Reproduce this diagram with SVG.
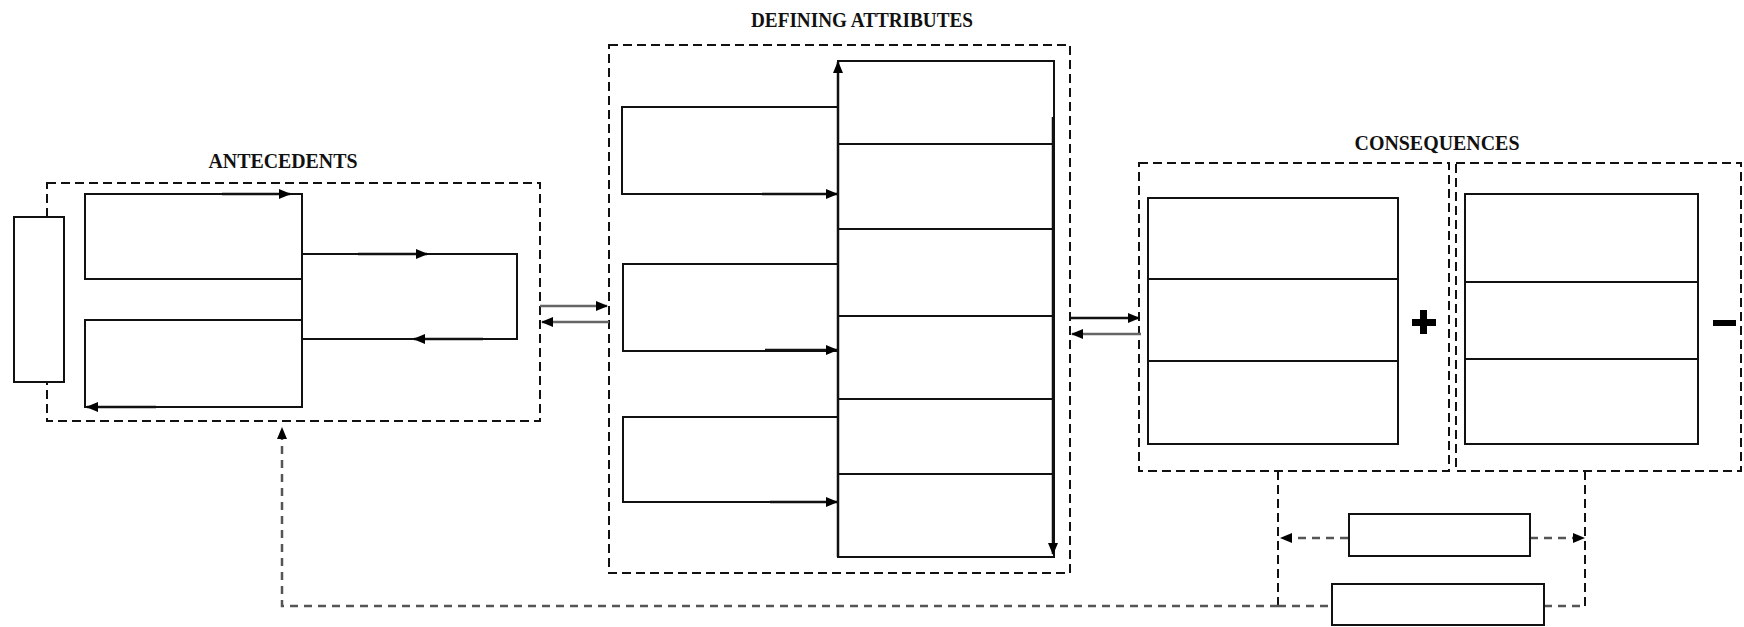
<svg xmlns="http://www.w3.org/2000/svg" width="1744" height="627" viewBox="0 0 1744 627">
<style>
.box{fill:#fff;stroke:#111;stroke-width:2}
.ln{fill:none;stroke:#111;stroke-width:2}
.dash{fill:none;stroke:#111;stroke-width:2;stroke-dasharray:9 5}
.fb{fill:none;stroke:#555;stroke-width:2.5;stroke-dasharray:8 6}
.arr{fill:none;stroke:#111;stroke-width:2.5;marker-end:url(#ah)}
.arrg{fill:none;stroke:#666;stroke-width:2.5;marker-end:url(#ah)}
.arrfb{fill:none;stroke:#555;stroke-width:2.5;stroke-dasharray:8 6;marker-end:url(#ah)}
.title{font-family:"Liberation Serif",serif;font-size:20px;font-weight:bold;fill:#111}
.sym{fill:#000}
</style>
<defs>
<marker id="ah" markerWidth="12" markerHeight="10" refX="11" refY="5" orient="auto" markerUnits="userSpaceOnUse">
<path d="M0,0 L12,5 L0,10 Z" fill="#000"/>
</marker>
</defs>
<rect width="1744" height="627" fill="#fff"/>

<g id="antecedents">
<rect class="dash" x="47" y="183" width="493" height="238"/>
<text class="title" x="283" y="168" text-anchor="middle" textLength="149" lengthAdjust="spacingAndGlyphs">ANTECEDENTS</text>
</g>
<g id="defining-attributes">
<rect class="dash" x="609" y="45" width="461" height="528"/>
<text class="title" x="862" y="27" text-anchor="middle" textLength="222" lengthAdjust="spacingAndGlyphs">DEFINING ATTRIBUTES</text>
</g>
<g id="consequences">
<rect class="dash" x="1139" y="163" width="310" height="308"/>
<rect class="dash" x="1456" y="163" width="285" height="308"/>
<text class="title" x="1437" y="150" text-anchor="middle" textLength="165" lengthAdjust="spacingAndGlyphs">CONSEQUENCES</text>
</g>

<g id="a0"><rect class="box" x="14" y="217" width="50" height="165"/></g>
<g id="a1"><rect class="box" x="85" y="194" width="217" height="85"/></g>
<g id="a2"><rect class="box" x="85" y="320" width="217" height="87"/></g>
<g id="a3"><path class="ln" d="M302,254 H517 V339 H302"/></g>

<g id="d1"><rect class="box" x="622" y="107" width="216" height="87"/></g>
<g id="d2"><rect class="box" x="623" y="264" width="215" height="87"/></g>
<g id="d3"><rect class="box" x="623" y="417" width="215" height="85"/></g>
<g id="s1"><rect class="box" x="838" y="61" width="216" height="83"/></g>
<g id="s2"><rect class="box" x="838" y="144" width="216" height="85"/></g>
<g id="s3"><rect class="box" x="838" y="229" width="216" height="87"/></g>
<g id="s4"><rect class="box" x="838" y="316" width="216" height="83"/></g>
<g id="s5"><rect class="box" x="838" y="399" width="216" height="75"/></g>
<g id="s6"><rect class="box" x="838" y="474" width="216" height="83"/></g>

<g id="cp1"><rect class="box" x="1148" y="198" width="250" height="81"/></g>
<g id="cp2"><rect class="box" x="1148" y="279" width="250" height="82"/></g>
<g id="cp3"><rect class="box" x="1148" y="361" width="250" height="83"/></g>
<g id="cm1"><rect class="box" x="1465" y="194" width="233" height="88"/></g>
<g id="cm2"><rect class="box" x="1465" y="282" width="233" height="77"/></g>
<g id="cm3"><rect class="box" x="1465" y="359" width="233" height="85"/></g>
<g id="plus"><path class="sym" d="M1420,310 H1427 V319 H1436 V326 H1427 V334 H1420 V326 H1412 V319 H1420 Z"/></g>
<g id="minus"><rect class="sym" x="1713" y="320" width="23" height="6"/></g>

<g id="connectors">
<path class="ln" d="M302,279 V320"/>
<path class="arr" d="M222,194 H290"/>
<path class="arr" d="M358,254 H427"/>
<path class="arr" d="M483,339 H414"/>
<path class="arr" d="M156,407 H87"/>
<path class="arrg" d="M540,306 H607"/>
<path class="arrg" d="M609,322 H542"/>
<path class="arr" d="M762,194 H837"/>
<path class="arr" d="M765,350 H837"/>
<path class="arr" d="M770,502 H837"/>
<path class="arr" d="M838,557 V62"/>
<path class="arr" d="M1053,117 V554"/>
<path class="arr" d="M1070,318 H1139"/>
<path class="arrg" d="M1141,334 H1072"/>
<path class="dash" d="M1278,471 V606"/>
<path class="dash" d="M1585,471 V606"/>
<path class="arrfb" d="M1278,606 H282 V428"/>
<path class="fb" d="M1278,606 H1585"/>
<path class="arrfb" d="M1348,538 H1281"/>
<path class="arrfb" d="M1530,538 H1584"/>
</g>

<g id="f1"><rect class="box" x="1349" y="514" width="181" height="42"/></g>
<g id="f2"><rect class="box" x="1332" y="584" width="212" height="41"/></g>
</svg>
